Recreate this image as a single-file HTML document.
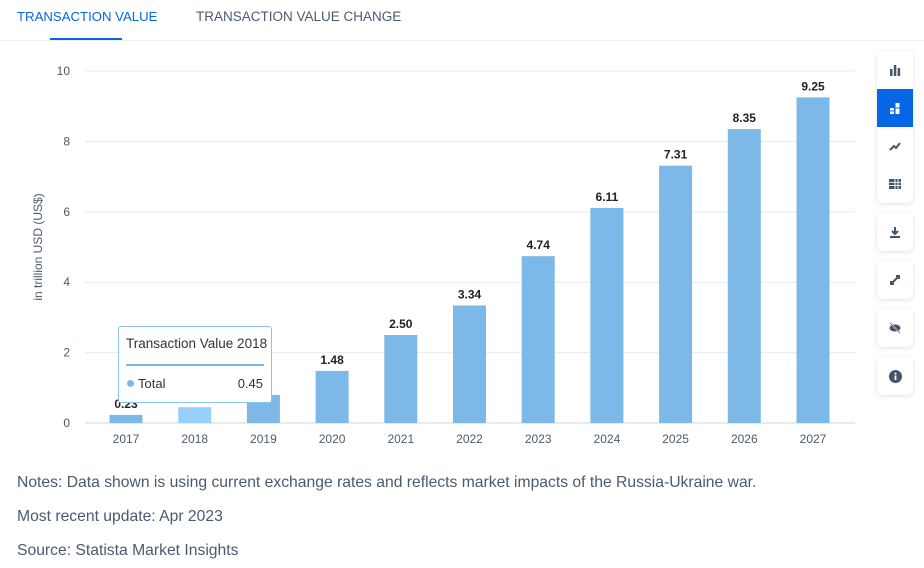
<!DOCTYPE html>
<html><head><meta charset="utf-8"><style>
body{margin:0;width:924px;height:568px;background:#fff;font-family:"Liberation Sans",sans-serif;position:relative;overflow:hidden}
.tab{position:absolute;top:9px;font-size:13.2px;white-space:nowrap}
.note{position:absolute;left:17px;font-size:15.7px;color:#4a5b6e;white-space:nowrap}
.side{position:absolute;left:877px;width:36px;background:#fff;border-radius:5px;box-shadow:0 1px 4px rgba(0,0,0,0.12)}
.btn{height:38px;display:flex;align-items:center;justify-content:center}
</style></head><body>
<div class="tab" style="left:17px;color:#0666e5">TRANSACTION VALUE</div>
<div class="tab" style="left:196px;color:#4a5b6e;font-size:13.5px">TRANSACTION VALUE CHANGE</div>
<div style="position:absolute;left:50px;top:38px;width:72px;height:2px;background:#0666e5"></div>
<div style="position:absolute;left:0;top:40px;width:924px;height:1px;background:#eef2f6"></div>
<svg id="chart" width="870" height="460" style="position:absolute;left:0;top:0"></svg>
<div class="side" style="top:51px">
<div class="btn"><svg width="12" height="12"><rect x="1" y="5" width="2.5" height="7" fill="#44546a"/><rect x="4.8" y="1" width="2.5" height="11" fill="#44546a"/><rect x="8.6" y="4" width="2.5" height="8" fill="#44546a"/></svg></div>
<div class="btn" style="background:#0666e5"><svg width="12" height="12"><rect x="1" y="6" width="4" height="2.5" fill="#fff"/><rect x="1" y="9.5" width="4" height="2.5" fill="#fff"/><rect x="6.5" y="1" width="4" height="4.5" fill="#fff"/><rect x="6.5" y="6.5" width="4" height="5.5" fill="#fff"/></svg></div>
<div class="btn"><svg width="12" height="12"><path d="M1 10 L5 6 L7 8 L11 3" stroke="#44546a" stroke-width="2" fill="none"/></svg></div>
<div class="btn"><svg width="12" height="12"><rect x="0" y="1" width="12" height="10" fill="#44546a"/><path d="M0 4.3H12M0 7.6H12M6 0V12M9 0V12" stroke="#fff" stroke-width="0.9"/></svg></div>
</div>
<div class="side" style="top:213px"><div class="btn"><svg width="12" height="12"><path d="M6 1V8M3 5L6 8L9 5" stroke="#44546a" stroke-width="2" fill="none"/><rect x="1" y="10" width="10" height="2" fill="#44546a"/></svg></div></div>
<div class="side" style="top:261px"><div class="btn"><svg width="12" height="12"><path d="M2 10L10 2M7 2H10V5M2 7V10H5" stroke="#44546a" stroke-width="2" fill="none"/></svg></div></div>
<div class="side" style="top:309px"><div class="btn"><svg width="12" height="12"><ellipse cx="6" cy="6" rx="5.5" ry="3.5" fill="#44546a"/><path d="M1 1L11 11" stroke="#fff" stroke-width="1.5"/><path d="M1 1L11 11" stroke="#44546a" stroke-width="0.8"/></svg></div></div>
<div class="side" style="top:357px"><div class="btn"><svg width="13" height="13"><circle cx="6.5" cy="6.5" r="6.5" fill="#44546a"/><rect x="5.6" y="5.5" width="1.8" height="4.5" fill="#fff"/><circle cx="6.5" cy="3.6" r="1" fill="#fff"/></svg></div></div>
<div class="note" style="top:474px">Notes: Data shown is using current exchange rates and reflects market impacts of the Russia-Ukraine war.</div>
<div class="note" style="top:508px">Most recent update: Apr 2023</div>
<div class="note" style="top:542px">Source: Statista Market Insights</div>
<div style="position:absolute;left:118px;top:326px;width:154px;height:77px;background:#fff;border:1px solid #8cc4ef;border-radius:3px;box-sizing:border-box">
<div style="position:absolute;left:7px;top:9px;font-size:13.5px;color:#333;white-space:nowrap">Transaction Value 2018</div>
<div style="position:absolute;left:7px;top:37px;width:138px;height:2px;background:#7cb9e8"></div>
<div style="position:absolute;left:8px;top:53px;width:7px;height:7px;border-radius:50%;background:#7cb9e8"></div>
<div style="position:absolute;left:19px;top:49px;font-size:13px;color:#333">Total</div>
<div style="position:absolute;right:8px;top:49px;font-size:13px;color:#333">0.45</div>
</div>
<script>
const categories=["2017","2018","2019","2020","2021","2022","2023","2024","2025","2026","2027"];
const values=[0.23,0.45,0.8,1.48,2.50,3.34,4.74,6.11,7.31,8.35,9.25];
const labels=["0.23","","","1.48","2.50","3.34","4.74","6.11","7.31","8.35","9.25"];
const yTicks=[0,2,4,6,8,10];
const svg=document.getElementById('chart');const NS='http://www.w3.org/2000/svg';
const y=v=>423-v*35.2;const x=i=>126+i*68.7;
function mk(t,a,txt){const e=document.createElementNS(NS,t);for(const k in a)e.setAttribute(k,a[k]);if(txt!==undefined)e.textContent=txt;svg.appendChild(e);return e;}
yTicks.forEach(t=>{
 const g=mk('line',{x1:85,x2:855,y1:y(t),y2:y(t),stroke:t?'#e6e9ed':'#c9d7e6','stroke-width':1});
 
 
 const l=mk('text',{x:70,y:y(t)+4,'text-anchor':'end','font-size':12,fill:'#4a5b6e','font-family':'Liberation Sans'},t);
 
 
});
const yt=mk('text',{transform:'translate(42,247) rotate(-90)','text-anchor':'middle','font-size':12,fill:'#4a5b6e','font-family':'Liberation Sans'},'in trillion USD (US$)');


categories.forEach((c,i)=>{
 const b=mk('rect',{x:x(i)-16.5,y:y(values[i]),width:33,height:423-y(values[i]),fill:i==1?'#97d1fb':'#7cb9e8'});
 
 
 const t=mk('text',{x:x(i),y:443,'text-anchor':'middle','font-size':12,fill:'#4a5b6e','font-family':'Liberation Sans'},c);
 
 
 if(labels[i]){const v=mk('text',{x:x(i),y:y(values[i])-7,'text-anchor':'middle','font-size':12,'font-weight':'bold',fill:'#222','font-family':'Liberation Sans'},labels[i]);
 
 }
});
</script>
</body></html>
